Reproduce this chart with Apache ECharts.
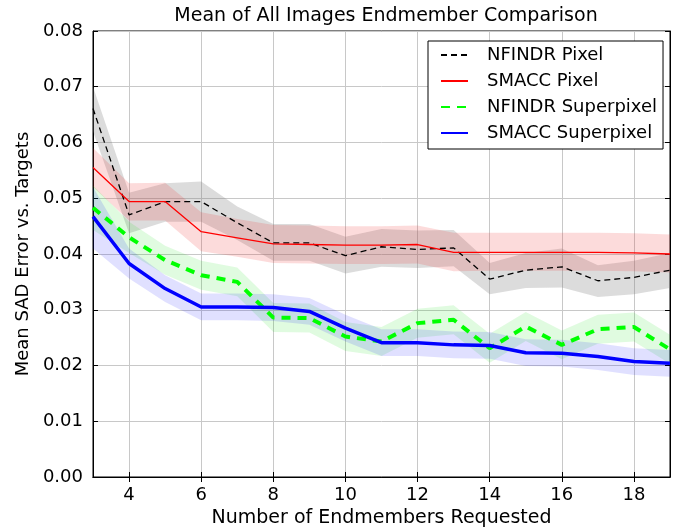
<!DOCTYPE html>
<html>
<head>
<meta charset="utf-8">
<script src="https://cdn.jsdelivr.net/npm/echarts@6/dist/echarts.min.js"></script>
<style>html,body{margin:0;padding:0;background:#fff}#c{width:681px;height:527px}</style>
</head>
<body>
<div id="c"></div>
<script>
const xValues = [3,4,5,6,7,8,9,10,11,12,13,14,15,16,17,18,19];
const xTicks = [4,6,8,10,12,14,16,18];

const nfPixel     = [0.0661,0.0470,0.0494,0.0494,0.0456,0.0420,0.0420,0.0397,0.0413,0.0408,0.0411,0.0355,0.0371,0.0377,0.0352,0.0358,0.0371];
const nfPixelLow  = [0.0620,0.0437,0.0458,0.0458,0.0425,0.0388,0.0388,0.0365,0.0377,0.0375,0.0378,0.0328,0.0339,0.0340,0.0323,0.0328,0.0339];
const nfPixelHigh = [0.0700,0.0510,0.0527,0.0530,0.0485,0.0454,0.0454,0.0431,0.0445,0.0442,0.0443,0.0384,0.0402,0.0410,0.0380,0.0388,0.0402];

const smPixel     = [0.0555,0.0494,0.0494,0.0440,0.0429,0.0418,0.0417,0.0416,0.0416,0.0417,0.0403,0.0403,0.0403,0.0403,0.0403,0.0402,0.0400];
const smPixelLow  = [0.0520,0.0460,0.0460,0.0405,0.0395,0.0384,0.0383,0.0382,0.0382,0.0383,0.0369,0.0370,0.0370,0.0370,0.0370,0.0369,0.0367];
const smPixelHigh = [0.0590,0.0527,0.0528,0.0475,0.0463,0.0452,0.0451,0.0450,0.0450,0.0451,0.0438,0.0438,0.0438,0.0438,0.0438,0.0437,0.0435];

const nfSuper     = [0.0483,0.0430,0.0389,0.0362,0.0350,0.0286,0.0285,0.0252,0.0243,0.0276,0.0282,0.0231,0.0270,0.0237,0.0265,0.0269,0.0229];
const nfSuperLow  = [0.0443,0.0402,0.0363,0.0336,0.0324,0.0260,0.0259,0.0226,0.0217,0.0250,0.0256,0.0205,0.0244,0.0211,0.0239,0.0243,0.0203];
const nfSuperHigh = [0.0523,0.0458,0.0415,0.0388,0.0376,0.0312,0.0311,0.0278,0.0269,0.0302,0.0308,0.0257,0.0296,0.0263,0.0291,0.0295,0.0255];

const smSuper     = [0.0467,0.0383,0.0338,0.0305,0.0305,0.0304,0.0297,0.0267,0.0241,0.0241,0.0237,0.0236,0.0223,0.0222,0.0216,0.0207,0.0204];
const smSuperLow  = [0.0410,0.0356,0.0314,0.0281,0.0281,0.0280,0.0273,0.0243,0.0217,0.0217,0.0213,0.0212,0.0199,0.0198,0.0192,0.0183,0.0180];
const smSuperHigh = [0.0520,0.0410,0.0362,0.0329,0.0329,0.0328,0.0321,0.0291,0.0265,0.0265,0.0261,0.0260,0.0247,0.0246,0.0240,0.0231,0.0228];

const FONT = 'DejaVu Sans';
const pairs = arr => arr.map((v, i) => [xValues[i], v]);

function band(low, high, color) {
  return {
    type: 'custom', silent: true, z: 1, clip: true,
    data: xValues.map((x, i) => [x, low[i], high[i]]),
    encode: { x: 0, y: [1, 2] },
    renderItem: (params, api) => {
      if (params.dataIndex !== 0) return null;
      const pts = [];
      for (let i = 0; i < xValues.length; i++) pts.push(api.coord([xValues[i], high[i]]));
      for (let i = xValues.length - 1; i >= 0; i--) pts.push(api.coord([xValues[i], low[i]]));
      return { type: 'polygon', shape: { points: pts }, style: { fill: color } };
    }
  };
}

const chart = echarts.init(document.getElementById('c'));
chart.setOption({
  animation: false,
  backgroundColor: '#fff',
  title: {
    text: 'Mean of All Images Endmember Comparison',
    left: 381, top: 2, textAlign: 'center',
    textStyle: { fontFamily: FONT, fontSize: 19, fontWeight: 'normal', color: '#000' }
  },
  legend: {
    orient: 'vertical', left: 428, top: 41,
    data: ['NFINDR Pixel', 'SMACC Pixel', 'NFINDR Superpixel', 'SMACC Superpixel'],
    backgroundColor: '#fff', borderColor: '#000', borderWidth: 1,
    padding: [5, 6, 7, 12], itemGap: 8, itemWidth: 27, itemHeight: 14,
    itemStyle: { opacity: 0 },
    textStyle: { fontFamily: FONT, fontSize: 18, color: '#000', padding: [0, 0, 0, 14] }
  },
  grid: { left: 93, right: 11, top: 31, bottom: 50, show: true, borderColor: '#000', borderWidth: 1,
          outerBoundsMode: 'none', containLabel: false },
  xAxis: [{
    type: 'value', min: 3, max: 19,
    name: 'Number of Endmembers Requested', nameLocation: 'middle', nameGap: 30,
    nameTextStyle: { fontFamily: FONT, fontSize: 19, color: '#000' },
    axisLine: { show: true, lineStyle: { color: '#000' } },
    axisTick: { show: true, inside: true, length: 5, customValues: xTicks, lineStyle: { color: '#000' } },
    axisLabel: { customValues: xTicks, fontFamily: FONT, fontSize: 18, color: '#000', margin: 9 },
    splitLine: { show: true, lineStyle: { color: '#c8c8c8', width: 1 } }
  }, {
    type: 'value', min: 3, max: 19, position: 'top',
    axisLine: { show: true, lineStyle: { color: '#000' } },
    axisTick: { show: true, inside: true, length: 5, customValues: xTicks, lineStyle: { color: '#000' } },
    axisLabel: { show: false }, splitLine: { show: false }
  }],
  yAxis: [{
    type: 'value', min: 0, max: 0.08, interval: 0.01,
    name: 'Mean SAD Error vs. Targets', nameLocation: 'middle', nameGap: 61,
    nameTextStyle: { fontFamily: FONT, fontSize: 18, color: '#000' },
    axisLine: { show: true, lineStyle: { color: '#000' } },
    axisTick: { show: true, inside: true, length: 5, lineStyle: { color: '#000' } },
    axisLabel: { formatter: v => v.toFixed(2), fontFamily: FONT, fontSize: 18, color: '#000', margin: 10 },
    splitLine: { show: true, lineStyle: { color: '#c8c8c8', width: 1 } }
  }, {
    type: 'value', min: 0, max: 0.08, interval: 0.01, position: 'right',
    axisLine: { show: true, lineStyle: { color: '#000' } },
    axisTick: { show: true, inside: true, length: 5, lineStyle: { color: '#000' } },
    axisLabel: { show: false }, splitLine: { show: false }
  }],
  series: [
    band(nfPixelLow, nfPixelHigh, 'rgba(128,128,128,0.28)'),
    band(smPixelLow, smPixelHigh, 'rgba(240,40,40,0.17)'),
    band(nfSuperLow, nfSuperHigh, 'rgba(0,220,0,0.12)'),
    band(smSuperLow, smSuperHigh, 'rgba(0,0,255,0.12)'),
    { type: 'line', name: 'NFINDR Pixel', data: pairs(nfPixel), symbol: 'none', z: 3,
      lineStyle: { color: '#000', width: 1.3, type: [6, 4] }, itemStyle: { color: '#000' } },
    { type: 'line', name: 'SMACC Pixel', data: pairs(smPixel), symbol: 'none', z: 3,
      lineStyle: { color: '#ff0000', width: 1.3 }, itemStyle: { color: '#ff0000' } },
    { type: 'line', name: 'NFINDR Superpixel', data: pairs(nfSuper), symbol: 'none', z: 3,
      lineStyle: { color: '#00ff00', width: 4, type: [9, 7] }, itemStyle: { color: '#00ff00' } },
    { type: 'line', name: 'SMACC Superpixel', data: pairs(smSuper), symbol: 'none', z: 3,
      lineStyle: { color: '#0000ff', width: 3.5 }, itemStyle: { color: '#0000ff' } }
  ]
});
</script>
</body>
</html>
